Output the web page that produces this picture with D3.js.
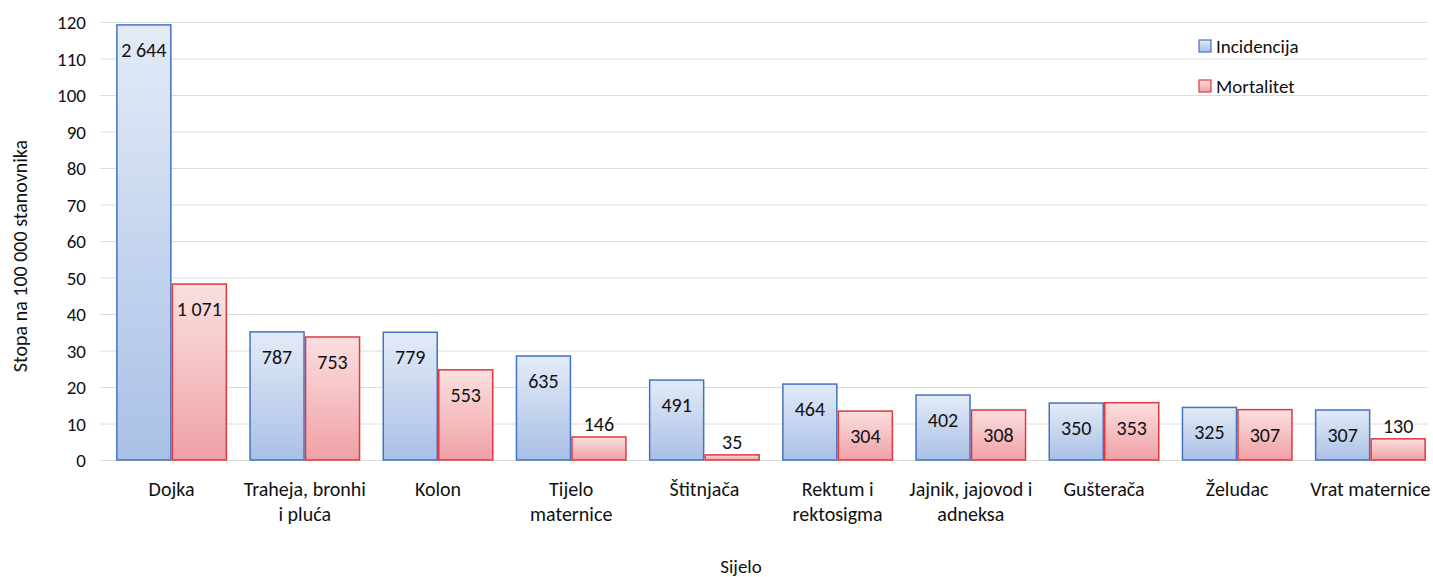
<!DOCTYPE html>
<html><head><meta charset="utf-8">
<script src="https://cdn.jsdelivr.net/npm/d3@7"></script>
<style>
html,body{margin:0;padding:0;background:#fff;}
svg text{font-family:Carlito, Lato, "Noto Sans", sans-serif;fill:#111;}
</style></head>
<body><svg id="c" width="1433" height="577"></svg>
<script>
const categories = ["Dojka","Traheja, bronhi\ni pluća","Kolon","Tijelo\nmaternice","Štitnjača","Rektum i\nrektosigma","Jajnik, jajovod i\nadneksa","Gušterača","Želudac","Vrat maternice"];
const seriesNames = ["Incidencija","Mortalitet"];
const incidenceRate = [119.2, 35.1, 35.0, 28.5, 21.9, 20.8, 17.8, 15.6, 14.4, 13.7];
const mortalityRate = [48.2, 33.7, 24.7, 6.3, 1.4, 13.4, 13.7, 15.7, 13.8, 5.8];
const incidenceCount = [2644, 787, 779, 635, 491, 464, 402, 350, 325, 307];
const mortalityCount = [1071, 753, 553, 146, 35, 304, 308, 353, 307, 130];
const yTicks = [0,10,20,30,40,50,60,70,80,90,100,110,120];

const svg = d3.select("#c");
const x0 = d3.scaleBand().domain(categories).range([105, 1437]).paddingInner(0).paddingOuter(0);
const x1 = d3.scaleBand().domain(seriesNames).range([0, x0.bandwidth()]).paddingInner(0).paddingOuter(0.2);
const y = d3.scaleLinear().domain([0,120]).range([460, 22]);

const defs = svg.append("defs");
const grads = [
  {id:"gB", top:"#e3ebf7", bot:"#a9c0e6", stroke:"#4472c4"},
  {id:"gR", top:"#fbe0e0", bot:"#f0a0a5", stroke:"#e0383c"}
];
grads.forEach(g=>{
  const lg = defs.append("linearGradient").attr("id",g.id).attr("x1",0).attr("y1",0).attr("x2",0).attr("y2",1);
  lg.append("stop").attr("offset","0%").attr("stop-color",g.top);
  lg.append("stop").attr("offset","100%").attr("stop-color",g.bot);
});

// gridlines
svg.append("g").selectAll("line").data(yTicks).join("line")
  .attr("x1",100).attr("x2",1428).attr("y1",d=>y(d)+0.5).attr("y2",d=>y(d)+0.5)
  .attr("stroke","#dcdcdc").attr("stroke-width",1);

// y axis labels
const yAxis = d3.axisLeft(y).tickValues(yTicks).tickSize(0).tickPadding(0);
const ya = svg.append("g").attr("transform","translate(86,0)").call(yAxis);
ya.select(".domain").remove();
ya.selectAll("text").attr("font-size",19).attr("dy","0.35em").attr("font-family",null).style("fill","#111");

const rows = categories.map((c,i)=>({c, vals:[
  {s:seriesNames[0], v:incidenceRate[i], n:incidenceCount[i], g:grads[0]},
  {s:seriesNames[1], v:mortalityRate[i], n:mortalityCount[i], g:grads[1]}
]}));

const fmt = n => d3.format(",")(n).replace(/,/g," ");

const grp = svg.append("g").selectAll("g").data(rows).join("g")
  .attr("transform",d=>`translate(${x0(d.c)},0)`);
grp.selectAll("rect").data(d=>d.vals).join("rect")
  .attr("x",d=>x1(d.s)+0.75).attr("width",x1.bandwidth()-1.5)
  .attr("y",d=>y(d.v)).attr("height",d=>y(0)-y(d.v))
  .attr("fill",d=>`url(#${d.g.id})`).attr("stroke",d=>d.g.stroke).attr("stroke-width",1.5);
grp.selectAll("text.lbl").data(d=>d.vals).join("text").attr("class","lbl")
  .attr("x",d=>x1(d.s)+x1.bandwidth()/2)
  .attr("y",d=> (y(0)-y(d.v) < 40) ? y(d.v)-6 : y(d.v)+32)
  .attr("text-anchor","middle").attr("font-size",20)
  .text(d=>fmt(d.n));

// x labels
const xl = svg.append("g").selectAll("text").data(categories).join("text")
  .attr("x",d=>x0(d)+x0.bandwidth()/2).attr("y",496)
  .attr("text-anchor","middle").attr("font-size",20);
xl.each(function(d){
  const lines = d.split("\n");
  d3.select(this).selectAll("tspan").data(lines).join("tspan")
    .attr("x",x0(d)+x0.bandwidth()/2).attr("dy",(l,i)=>i?25:0).text(l=>l);
});

// axis titles
svg.append("text").attr("x",741).attr("y",573).attr("text-anchor","middle").attr("font-size",19).text("Sijelo");
svg.append("text").attr("transform","translate(27,256) rotate(-90)").attr("text-anchor","middle").attr("font-size",20).text("Stopa na 100 000 stanovnika");

// legend
const leg = svg.append("g").selectAll("g").data(grads).join("g")
  .attr("transform",(d,i)=>`translate(1199,${40+i*40})`);
leg.append("rect").attr("width",12).attr("height",12).attr("fill",d=>`url(#${d.id})`).attr("stroke",d=>d.stroke).attr("stroke-width",1.2);
leg.append("text").attr("x",17).attr("y",6).attr("dy","0.35em").attr("font-size",19).text((d,i)=>seriesNames[i]);
</script></body></html>
